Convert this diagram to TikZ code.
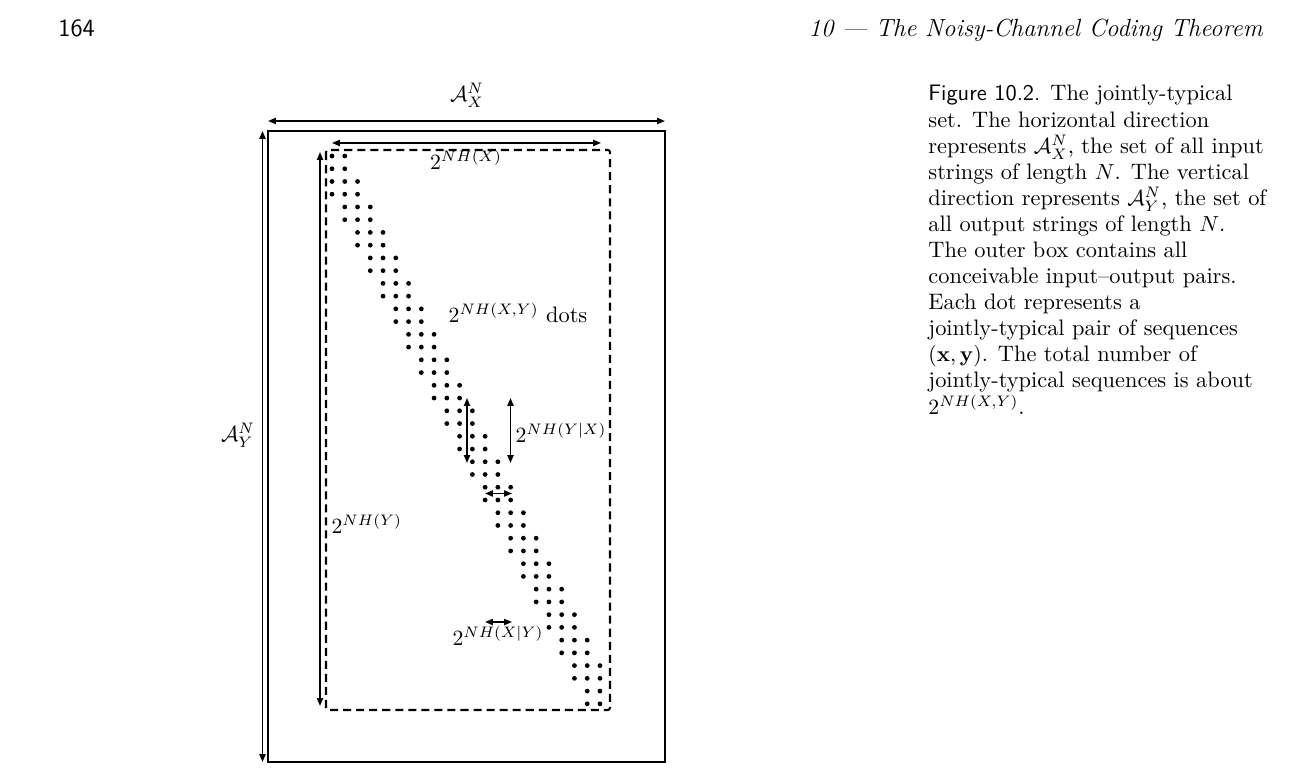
\documentclass[tikz,border=0pt]{standalone}
\usepackage{amsmath,amssymb}
\usetikzlibrary{arrows.meta}
\begin{document}
\begin{tikzpicture}[x=0.46pt,y=-0.46pt,
  dimarrow/.style={line width=0.7pt,{Triangle[length=3.6pt,width=2.8pt]}-{Triangle[length=3.6pt,width=2.8pt]}},
  outerbox/.style={line width=0.95pt},
  dashbox/.style={line width=0.95pt,dash pattern=on 3.7pt off 2.3pt,rounded corners=1pt},
  dot/.style={circle,fill,inner sep=0pt,minimum size=2.2pt},
  lbl/.style={inner sep=1pt,font=\fontsize{10.3}{12}\selectfont},
]
\useasboundingbox (0,0) rectangle (1291,781);
% header
\node[anchor=base west,font=\sffamily\fontsize{11.4}{13}\selectfont,inner sep=0pt] (page) at (58,37) {164};
\node[anchor=base east,font=\itshape\fontsize{11.4}{13}\selectfont,inner sep=0pt] (head) at (1263,37) {10 --- The Noisy-Channel Coding Theorem};
% boxes
\coordinate (oNW) at (268,131); \coordinate (oSE) at (665,762);
\draw[outerbox] (oNW) rectangle (oSE);
\coordinate (iNW) at (326,150); \coordinate (iSE) at (610,710);
\draw[dashbox] (iNW) rectangle (iSE);
% outer dimension arrows
\coordinate (axL) at (268,121); \coordinate (axR) at (665,121);
\draw[dimarrow] (axL) -- (axR);
\coordinate (ayT) at (262.5,131); \coordinate (ayB) at (262.5,762);
\draw[dimarrow] (ayT) -- (ayB);
\node[lbl] (ax) at (467,95) {$\mathcal{A}_X^N$};
\node[lbl] (ay) at (238,435) {$\mathcal{A}_Y^N$};
% inner dimension arrows
\coordinate (hxL) at (332,143); \coordinate (hxR) at (601,143);
\draw[dimarrow] (hxL) -- (hxR);
\node[lbl] (hx) at (466,160) {$2^{NH(X)}$};
\coordinate (hyT) at (320,152); \coordinate (hyB) at (320,706);
\draw[dimarrow] (hyT) -- (hyB);
\node[lbl,anchor=west] (hy) at (329,524) {$2^{NH(Y)}$};
% dots
\foreach \k in {0,...,21}{
  \pgfmathtruncatemacro\lo{max(0,\k-1)}
  \pgfmathtruncatemacro\hi{min(21,\k+1)}
  \foreach \c in {\lo,...,\hi}{
    \foreach \r in {0,1}{
      \node[dot] (d-\k-\c-\r) at ({332+12.76*\c},{156+12.74*(2*\k+\r)}) {};
    }
  }
}
\node[lbl] (hxy) at (518,313) {$2^{NH(X,Y)}$ dots};
% conditional arrows
\coordinate (c1T) at (467,398); \coordinate (c1B) at (467,463);
\draw[dimarrow] (c1T) -- (c1B);
\coordinate (c2T) at (510.5,398); \coordinate (c2B) at (510.5,463);
\draw[dimarrow] (c2T) -- (c2B);
\node[lbl,anchor=west] (hyx) at (513,433) {$2^{NH(Y|X)}$};
\coordinate (c3L) at (485,493.5); \coordinate (c3R) at (512,493.5);
\draw[dimarrow] (c3L) -- (c3R);
\coordinate (c4L) at (485,622); \coordinate (c4R) at (512,622);
\draw[dimarrow] (c4L) -- (c4R);
\node[lbl] (hxgy) at (498,636) {$2^{NH(X|Y)}$};
% caption
\node[anchor=north west,align=left,inner sep=0pt,font=\fontsize{10.3}{12}\selectfont] (cap) at (928,85) {%
\textsf{Figure 10.2.} The jointly-typical\\
set. The horizontal direction\\
represents $\mathcal{A}_X^N$, the set of all input\\
strings of length $N$. The vertical\\
direction represents $\mathcal{A}_Y^N$, the set of\\
all output strings of length $N$.\\
The outer box contains all\\
conceivable input--output pairs.\\
Each dot represents a\\
jointly-typical pair of sequences\\
$(\mathbf{x},\mathbf{y})$. The total number of\\
jointly-typical sequences is about\\
$2^{NH(X,Y)}$.};
\end{tikzpicture}
\end{document}
